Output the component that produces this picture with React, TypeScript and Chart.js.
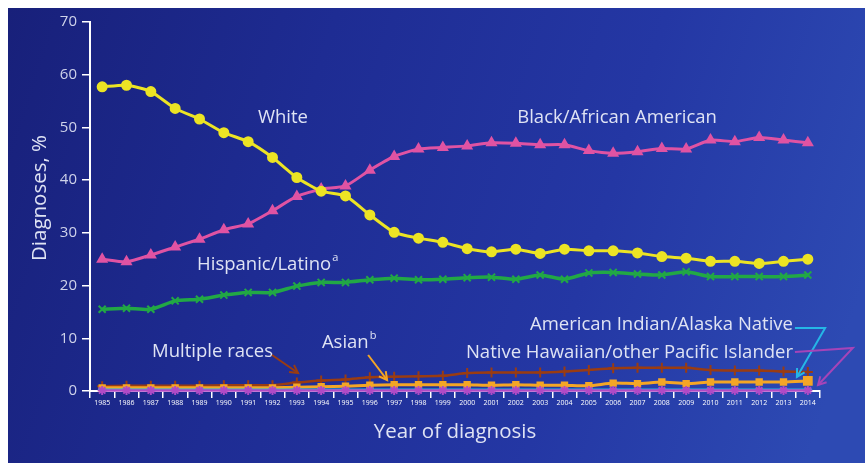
import React, { useEffect, useRef } from "react";
import { Chart, registerables } from "chart.js";

Chart.register(...registerables);

const years = [
  "1985", "1986", "1987", "1988", "1989", "1990", "1991", "1992", "1993", "1994",
  "1995", "1996", "1997", "1998", "1999", "2000", "2001", "2002", "2003", "2004",
  "2005", "2006", "2007", "2008", "2009", "2010", "2011", "2012", "2013", "2014",
];

const white = [57.7, 58.0, 56.8, 53.6, 51.6, 49.0, 47.3, 44.3, 40.5, 37.9, 37.0, 33.4, 30.1, 29.0, 28.2, 27.0, 26.4, 26.9, 26.1, 26.9, 26.6, 26.6, 26.2, 25.5, 25.2, 24.6, 24.6, 24.2, 24.6, 25.0];
const black = [25.0, 24.5, 25.8, 27.3, 28.8, 30.6, 31.7, 34.2, 36.9, 38.3, 38.9, 41.9, 44.5, 45.9, 46.2, 46.5, 47.1, 47.0, 46.7, 46.7, 45.6, 45.1, 45.4, 46.0, 45.9, 47.6, 47.3, 48.1, 47.6, 47.1];
const hispanic = [15.5, 15.7, 15.5, 17.1, 17.4, 18.2, 18.7, 18.7, 19.9, 20.6, 20.6, 21.1, 21.4, 21.1, 21.2, 21.5, 21.6, 21.2, 22.0, 21.2, 22.4, 22.5, 22.2, 22.0, 22.6, 21.7, 21.7, 21.7, 21.7, 22.0];
const multiple = [0.9, 1.0, 1.0, 1.0, 1.0, 1.1, 1.1, 1.1, 1.6, 2.0, 2.2, 2.6, 2.7, 2.8, 2.9, 3.4, 3.5, 3.5, 3.5, 3.7, 4.0, 4.3, 4.4, 4.4, 4.4, 4.0, 3.9, 3.9, 3.7, 3.6];
const asian = [0.6, 0.6, 0.6, 0.6, 0.6, 0.6, 0.6, 0.6, 0.7, 0.8, 0.9, 1.1, 1.2, 1.2, 1.2, 1.2, 1.1, 1.2, 1.1, 1.1, 1.0, 1.5, 1.4, 1.7, 1.4, 1.7, 1.7, 1.7, 1.7, 1.9];
const aian = [0.3, 0.3, 0.3, 0.3, 0.3, 0.3, 0.3, 0.3, 0.3, 0.3, 0.3, 0.3, 0.3, 0.3, 0.3, 0.3, 0.3, 0.3, 0.3, 0.3, 0.3, 0.3, 0.3, 0.3, 0.3, 0.3, 0.3, 0.3, 0.3, 0.3];
const nhopi = [0.1, 0.1, 0.1, 0.1, 0.1, 0.1, 0.1, 0.1, 0.1, 0.1, 0.1, 0.1, 0.1, 0.1, 0.1, 0.1, 0.1, 0.1, 0.1, 0.1, 0.1, 0.1, 0.1, 0.1, 0.1, 0.1, 0.1, 0.1, 0.1, 0.1];

const yTicks = [0, 10, 20, 30, 40, 50, 60, 70];

const FONT = "'Open Sans', 'Noto Sans', sans-serif";
const TEXT = "#dfe3f4";

// annotation labels: [text, superscript, x index, y value, align]
const labels: [string, string, number, number, CanvasTextAlign][] = [
  ["White", "", 7.43, 51.8, "center"],
  ["Black/African American", "", 21.16, 51.8, "center"],
  ["Hispanic/Latino", "a", 3.9, 23.9, "left"],
  ["Multiple races", "", 2.05, 7.4, "left"],
  ["Asian", "b", 9.03, 9.1, "left"],
  ["American Indian/Alaska Native", "", 28.39, 12.5, "right"],
  ["Native Hawaiian/other Pacific Islander", "", 28.39, 7.2, "right"],
];

// arrows: colour and polyline in (x index, y value)
const arrows: [string, [number, number][]][] = [
  ["#9a3c12", [[6.98, 6.83], [8.05, 3.42]]],
  ["#f4a626", [[10.93, 6.83], [11.71, 2.09]]],
  ["#25b6e6", [[28.47, 11.95], [29.71, 11.95], [28.55, 2.66]]],
  ["#a544b8", [[28.47, 7.4], [30.85, 8.16], [29.42, 1.14]]],
];

const bgPlugin = {
  id: "bg",
  beforeDraw(chart: any) {
    const { ctx, width, height } = chart;
    ctx.save();
    const g = ctx.createLinearGradient(0, 0, width, height * 0.6);
    g.addColorStop(0, "#18207a");
    g.addColorStop(0.35, "#1e2c93");
    g.addColorStop(0.7, "#2437a4");
    g.addColorStop(1, "#2d4ab3");
    ctx.fillStyle = g;
    ctx.fillRect(0, 0, width, height);
    ctx.restore();
  },
};

const annoPlugin = {
  id: "anno",
  afterDraw(chart: any) {
    const { ctx, chartArea } = chart;
    const xs = chart.scales.x;
    const ys = chart.scales.y;
    const px = (i: number) => {
      const a = xs.getPixelForValue(0);
      const b = xs.getPixelForValue(1);
      return a + (b - a) * i;
    };
    const py = (v: number) => ys.getPixelForValue(v);
    ctx.save();
    // y title
    ctx.fillStyle = TEXT;
    ctx.font = `20.5px ${FONT}`;
    ctx.textAlign = "center";
    ctx.textBaseline = "middle";
    ctx.translate(chartArea.left - 50, chartArea.top + (chartArea.bottom - chartArea.top) * 0.477);
    ctx.rotate(-Math.PI / 2);
    ctx.fillText("Diagnoses, %", 0, 0);
    ctx.restore();

    ctx.save();
    ctx.textBaseline = "middle";
    for (const [t, sup, i, v, align] of labels) {
      ctx.font = `18.5px ${FONT}`;
      ctx.fillStyle = TEXT;
      ctx.textAlign = align;
      const x = px(i);
      const y = py(v);
      ctx.fillText(t, x, y);
      if (sup) {
        const w = ctx.measureText(t).width;
        const sx = align === "left" ? x + w + 1 : align === "center" ? x + w / 2 + 1 : x + 1;
        ctx.font = `11px ${FONT}`;
        ctx.textAlign = "left";
        ctx.fillText(sup, sx, y - 7);
      }
    }
    ctx.restore();

    ctx.save();
    ctx.lineWidth = 2;
    for (const [col, pts] of arrows) {
      ctx.strokeStyle = col;
      ctx.beginPath();
      pts.forEach(([i, v], k) => {
        if (k === 0) ctx.moveTo(px(i), py(v));
        else ctx.lineTo(px(i), py(v));
      });
      ctx.stroke();
      const [i1, v1] = pts[pts.length - 2];
      const [i2, v2] = pts[pts.length - 1];
      const x1 = px(i1), y1 = py(v1), x2 = px(i2), y2 = py(v2);
      const ang = Math.atan2(y2 - y1, x2 - x1);
      const L = 9;
      ctx.beginPath();
      ctx.moveTo(x2 - L * Math.cos(ang - 0.5), y2 - L * Math.sin(ang - 0.5));
      ctx.lineTo(x2, y2);
      ctx.lineTo(x2 - L * Math.cos(ang + 0.5), y2 - L * Math.sin(ang + 0.5));
      ctx.stroke();
    }
    ctx.restore();
  },
};

export default function App() {
  const ref = useRef<HTMLCanvasElement | null>(null);
  useEffect(() => {
    if (!ref.current) return;
    const ds = (label: string, data: number[], color: string, style: any, radius: any, width = 3) => ({
      label,
      data,
      borderColor: color,
      backgroundColor: color,
      pointBackgroundColor: color,
      pointBorderColor: color,
      pointStyle: style,
      pointRadius: radius,
      pointBorderWidth: 2,
      borderWidth: width,
      tension: 0.2,
      clip: false as any,
    });
    const chart = new Chart(ref.current, {
      type: "line",
      data: {
        labels: years,
        datasets: [
          ds("Native Hawaiian/other Pacific Islander", nhopi, "#b04ac6", "star", 4.5, 2.5),
          ds("American Indian/Alaska Native", aian, "#25b6e6", "line", 4, 2),
          ds("Asian", asian, "#f4a626", "rect", (c: any) => (c.dataIndex === asian.length - 1 ? 5.5 : 3.8), 3),
          ds("Multiple races", multiple, "#9a3c12", "cross", 5, 2.5),
          ds("White", white, "#ece424", "circle", 4.5, 3),
          ds("Black/African American", black, "#e053a3", "triangle", 5, 3),
          ds("Hispanic/Latino", hispanic, "#22a845", "crossRot", 5, 3.5),
        ],
      },
      options: {
        responsive: false,
        animation: false,
        layout: { padding: { top: 14, right: 45, left: 0, bottom: 0 } },
        plugins: { legend: { display: false }, tooltip: { enabled: false } },
        scales: {
          x: {
            type: "category",
            offset: true,
            afterFit: (s: any) => {
              s.height = 72;
            },
            grid: { drawOnChartArea: false, drawTicks: true, tickLength: 7, color: "#ffffff", lineWidth: 1.5, offset: true },
            border: { color: "#ffffff", width: 2 },
            ticks: { color: "#ffffff", font: { size: 7, family: FONT }, maxRotation: 0, autoSkip: false, padding: 1 },
            title: {
              display: true,
              text: "Year of diagnosis",
              color: TEXT,
              font: { size: 20.5, family: FONT },
              padding: { top: 0, bottom: 19 },
            },
          },
          y: {
            min: 0,
            max: 70,
            afterFit: (s: any) => {
              s.width = 82;
            },
            afterBuildTicks: (s: any) => {
              s.ticks = yTicks.map((v) => ({ value: v }));
            },
            grid: { drawOnChartArea: false, drawTicks: true, tickLength: 8, color: "#ffffff", lineWidth: 1.5 },
            border: { color: "#ffffff", width: 2 },
            ticks: { color: "#cfd3ea", font: { size: 15, family: FONT }, padding: 5 },
          },
        },
      },
      plugins: [bgPlugin, annoPlugin],
    });
    return () => chart.destroy();
  }, []);
  return (
    <div style={{ position: "fixed", left: 8, top: 8, width: 857, height: 455 }}>
      <canvas ref={ref} width={857} height={455} style={{ width: 857, height: 455, display: "block" }} />
    </div>
  );
}
